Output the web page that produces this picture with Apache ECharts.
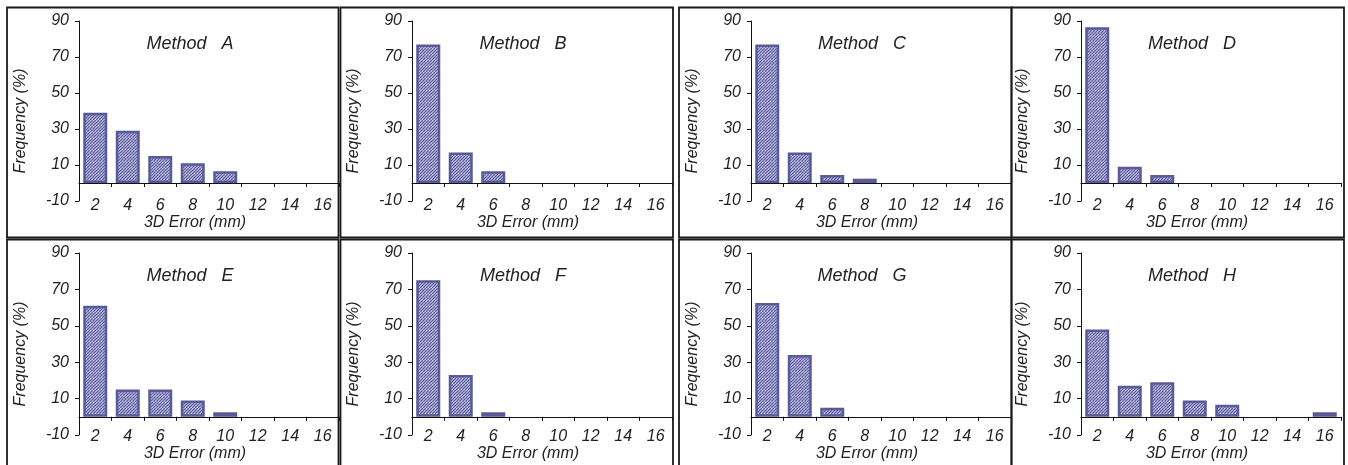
<!DOCTYPE html>
<html><head><meta charset="utf-8">
<script src="https://cdn.jsdelivr.net/npm/echarts@6/dist/echarts.min.js"></script>
<style>html,body{margin:0;padding:0;background:#fff}#c{width:1348px;height:465px}</style>
</head><body><div id="c"></div>
<script>
// ---- data ----
const categories = ['2', '4', '6', '8', '10', '12', '14', '16'];
const methodNames = ['A', 'B', 'C', 'D', 'E', 'F', 'G', 'H'];
const methodA = [39, 29, 15, 11, 6.5, 0, 0, 0];
const methodB = [77, 17, 6.5, 0, 0, 0, 0, 0];
const methodC = [77, 17, 4.5, 2.4, 0, 0, 0, 0];
const methodD = [86.5, 9, 4.5, 0, 0, 0, 0, 0];
const methodE = [61, 15, 15, 9, 2.5, 0, 0, 0];
const methodF = [75, 23, 2.5, 0, 0, 0, 0, 0];
const methodG = [62.5, 34, 5, 0, 0, 0, 0, 0];
const methodH = [48, 17, 19, 9, 6.6, 0, 0, 2.5];
const yTicks = [-10, 10, 30, 50, 70, 90];
const yMin = -10, yMax = 90;
const allMethods = [methodA, methodB, methodC, methodD, methodE, methodF, methodG, methodH];

// ---- layout / style ----
const FONT = "'Liberation Sans', Arial, sans-serif";
const TXT = '#222';
const gridLefts = [79, 412, 751, 1081];
const gridWidth = 260;
const rows = [
  {top: 21, height: 180, labelMargin: -3, nameGap: 14, titleY: 44},
  {top: 253, height: 182, labelMargin: -6, nameGap: 9, titleY: 276}
];
const panelCols = [[7, 338.5], [340.5, 673], [679, 1011.5], [1011.5, 1344]];
const panelRows = [[7.5, 237.5], [239.5, 475]];

function makePattern() {
  const c = document.createElement('canvas');
  c.width = 6; c.height = 6;
  const g = c.getContext('2d');
  g.fillStyle = '#dcdcee';
  g.fillRect(0, 0, 6, 6);
  g.strokeStyle = '#6565a6';
  g.lineWidth = 1.5;
  g.beginPath();
  for (let k = -6; k <= 12; k += 3) { g.moveTo(k, 6); g.lineTo(k + 6, 0); }
  g.stroke();
  return c;
}
const pattern = {image: makePattern(), repeat: 'repeat'};

const grids = [], xAxes = [], yAxes = [], series = [], graphics = [];
for (let i = 0; i < 8; i++) {
  const col = i % 4, row = Math.floor(i / 4), R = rows[row];
  grids.push({left: gridLefts[col], width: gridWidth, top: R.top, height: R.height,
    containLabel: false, outerBoundsMode: 'none'});
  xAxes.push({
    gridIndex: i, type: 'category', data: categories, boundaryGap: true,
    axisLine: {show: true, onZero: true, lineStyle: {color: '#111', width: 1}},
    axisTick: {show: true, length: 4, interval: 0, alignWithLabel: false, lineStyle: {color: '#111'}},
    axisLabel: {interval: 0, margin: R.labelMargin, color: TXT, fontFamily: FONT, fontStyle: 'italic', fontSize: 16},
    splitLine: {show: false},
    name: '3D Error (mm)', nameLocation: 'middle', nameGap: R.nameGap,
    nameTextStyle: {color: TXT, fontFamily: FONT, fontStyle: 'italic', fontSize: 16, padding: [0, 28, 0, 0]}
  });
  yAxes.push({
    gridIndex: i, type: 'value', min: yMin, max: yMax,
    axisLine: {show: true, lineStyle: {color: '#111', width: 1}},
    axisTick: {show: true, length: 4, customValues: yTicks, lineStyle: {color: '#111'}},
    axisLabel: {customValues: yTicks, margin: 10, color: TXT, fontFamily: FONT, fontStyle: 'italic', fontSize: 16},
    splitLine: {show: false},
    name: 'Frequency (%)', nameLocation: 'middle', nameGap: 50, nameRotate: 90,
    nameTextStyle: {color: TXT, fontFamily: FONT, fontStyle: 'italic', fontSize: 16, padding: [0, 20, 0, 0]}
  });
  series.push({
    type: 'bar', xAxisIndex: i, yAxisIndex: i,
    data: allMethods[i].map(v => (v === 0 ? null : v)),
    barWidth: 24, silent: true,
    itemStyle: {color: pattern, borderColor: '#5a5a96', borderWidth: 2.5}
  });
  // panel frame
  const pc = panelCols[col], pr = panelRows[row];
  graphics.push({type: 'rect', silent: true, z: 10,
    shape: {x: pc[0], y: pr[0], width: pc[1] - pc[0], height: pr[1] - pr[0]},
    style: {fill: 'none', stroke: '#1a1a1a', lineWidth: 1.8}});
  // panel title
  graphics.push({type: 'text', silent: true,
    x: gridLefts[col] + 111, y: R.titleY,
    style: {text: 'Method   ' + methodNames[i], font: 'italic 18px ' + FONT, fill: TXT, align: 'center', verticalAlign: 'middle'}});
}

const chart = echarts.init(document.getElementById('c'), null, {renderer: 'canvas'});
chart.setOption({
  animation: false,
  backgroundColor: '#fff',
  grid: grids, xAxis: xAxes, yAxis: yAxes, series: series,
  graphic: graphics
});
</script></body></html>
